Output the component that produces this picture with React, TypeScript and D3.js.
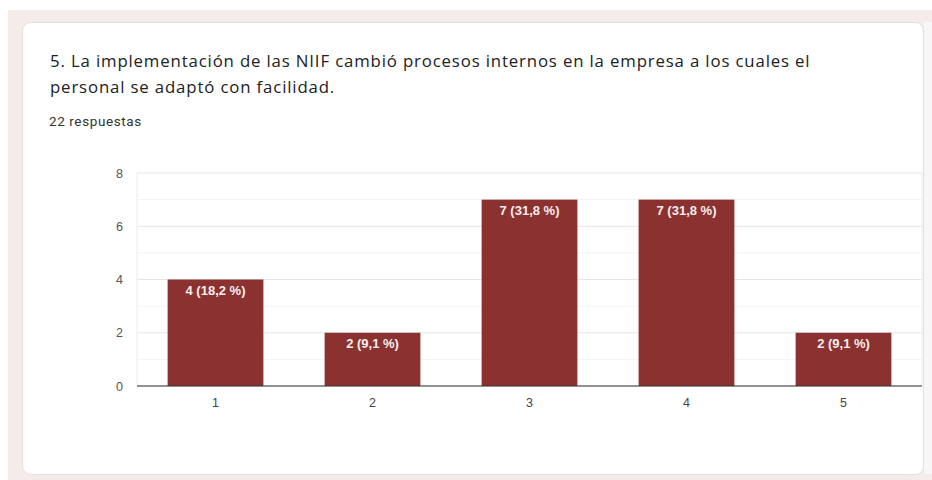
import React from "react";
import * as d3 from "d3";

const categories = ["1", "2", "3", "4", "5"];
const counts = [4, 2, 7, 7, 2];
const percents = ["18,2", "9,1", "31,8", "31,8", "9,1"];
const yTicks = [0, 2, 4, 6, 8];
const yMinorTicks = [1, 3, 5, 7];
const titleLines = [
  "5. La implementación de las NIIF cambió procesos internos en la empresa a los cuales el",
  "personal se adaptó con facilidad.",
];
const subtitle = "22 respuestas";

const W = 932;
const H = 480;
const plot = { left: 137, right: 922, top: 173, bottom: 386 };
const barColor = "#8b3230";

export default function App() {
  const x = d3
    .scaleBand<string>()
    .domain(categories)
    .range([plot.left, plot.right])
    .paddingInner(0.39)
    .paddingOuter(0.195);
  const y = d3.scaleLinear().domain([0, 8]).range([plot.bottom, plot.top]);

  return (
    <svg
      width={W}
      height={H}
      style={{ position: "absolute", left: 0, top: 0, display: "block" }}
      fontFamily="'Liberation Sans', Arial, sans-serif"
    >
      <rect x={0} y={0} width={W} height={H} fill="#ffffff" />
      <rect x={8} y={10} width={W - 8} height={H - 10} fill="#f4ebea" />
      <rect x={924} y={22} width={8} height={452} fill="#f8f6f6" />
      <rect x={22.5} y={22.5} width={901} height={452} rx={8} fill="#ffffff" stroke="#e6dedd" />

      {titleLines.map((t, i) => (
        <text
          key={i}
          x={50}
          y={67 + i * 26}
          fontFamily="'Open Sans', 'Noto Sans', sans-serif"
          fontSize={16.8}
          letterSpacing={0.85}
          fill="#202124"
        >
          {t}
        </text>
      ))}
      <text x={49} y={126} fontFamily="Roboto, sans-serif" fontSize={13.5} letterSpacing={0.6} fill="#333">
        {subtitle}
      </text>

      {yMinorTicks.map((t) => (
        <line key={"m" + t} x1={plot.left} x2={plot.right} y1={y(t)} y2={y(t)} stroke="#f3f3f3" />
      ))}
      {yTicks.map((t) => (
        <line key={"g" + t} x1={plot.left} x2={plot.right} y1={y(t)} y2={y(t)} stroke="#e6e6e6" />
      ))}
      <line x1={plot.left} x2={plot.left} y1={plot.top} y2={plot.bottom} stroke="#ececec" />
      <line x1={plot.right} x2={plot.right} y1={plot.top} y2={plot.bottom} stroke="#ececec" />

      {yTicks.map((t) => (
        <text key={"yl" + t} x={123} y={y(t) + 4.5} textAnchor="end" fontSize={12.5} fill="#555">
          {t}
        </text>
      ))}

      {categories.map((c, i) => (
        <g key={c}>
          <rect
            x={x(c)!}
            y={y(counts[i])}
            width={x.bandwidth()}
            height={y(0) - y(counts[i])}
            fill={barColor}
          />
          <text
            x={x(c)! + x.bandwidth() / 2}
            y={y(counts[i]) + 15}
            textAnchor="middle"
            fontSize={13}
            fontWeight="bold"
            fill="#f6eeee"
          >
            {`${counts[i]} (${percents[i]} %)`}
          </text>
          <text
            x={x(c)! + x.bandwidth() / 2}
            y={407}
            textAnchor="middle"
            fontSize={12.5}
            fill="#444"
          >
            {c}
          </text>
        </g>
      ))}

      <line x1={plot.left} x2={plot.right} y1={plot.bottom} y2={plot.bottom} stroke="#333" strokeWidth={1.2} />
    </svg>
  );
}
